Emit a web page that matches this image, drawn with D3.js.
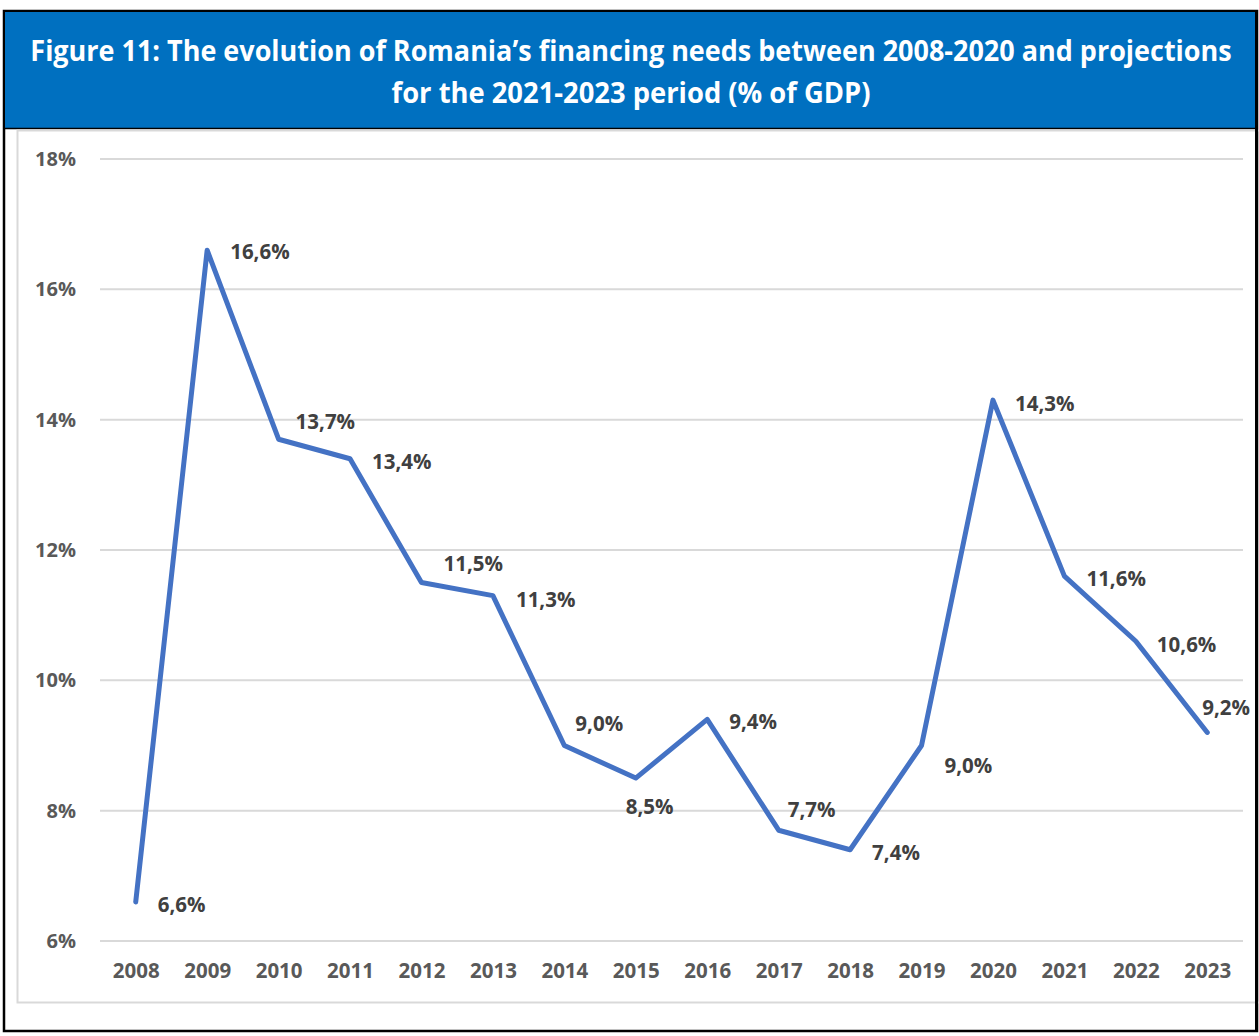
<!DOCTYPE html>
<html>
<head>
<meta charset="utf-8">
<script src="https://cdn.jsdelivr.net/npm/d3@7"></script>
<style>
  html, body { margin: 0; padding: 0; background: #ffffff; }
  svg { display: block; font-family: "Open Sans", "Noto Sans", sans-serif; }
</style>
</head>
<body>
<svg id="chart" width="1259" height="1036"></svg>
<script>
// Financing needs, % of GDP (2021-2023 are projections)
const years = ["2008","2009","2010","2011","2012","2013","2014","2015",
               "2016","2017","2018","2019","2020","2021","2022","2023"];
const financingNeeds = [6.6, 16.6, 13.7, 13.4, 11.5, 11.3, 9.0, 8.5,
                        9.4, 7.7, 7.4, 9.0, 14.3, 11.6, 10.6, 9.2];
const yTickValues = [6, 8, 10, 12, 14, 16, 18];
const titleLines = [
  "Figure 11: The evolution of Romania\u2019s financing needs between 2008-2020 and projections",
  "for the 2021-2023 period (% of GDP)"
];

// Hand-placed value labels: [dx, dy] from each point to the label's left edge / middle
const labelPlacement = [
  [22, 2], [23, 1], [17, -18], [22, 2], [22, -20], [23, 3], [11, -23], [-10, 28],
  [22, 2], [9, -21], [22, 2], [23, 19], [22, 3], [22, 2], [21, 3], [-5, -25]
];

const svg = d3.select("#chart");

// Outer frame and title banner
svg.append("rect").attr("x", 4).attr("y", 11).attr("width", 1253).attr("height", 1020)
  .attr("fill", "#ffffff").attr("stroke", "#000000").attr("stroke-width", 2.5);
svg.append("rect").attr("x", 5).attr("y", 12).attr("width", 1251).attr("height", 116)
  .attr("fill", "#0070C0");
svg.append("line").attr("x1", 5).attr("x2", 1256).attr("y1", 128.5).attr("y2", 128.5)
  .attr("stroke", "#000000").attr("stroke-width", 1.5);

// Title: a condensed look is obtained by scaling each line horizontally to its width
const titleWidths = [1202, 479];
svg.selectAll("text.title").data(titleLines).join("text")
  .attr("class", "title")
  .attr("text-anchor", "middle")
  .attr("dominant-baseline", "central")
  .attr("fill", "#ffffff")
  .attr("font-size", 28)
  .attr("font-weight", 700)
  .text(d => d)
  .each(function (d, i) {
    const natural = this.getComputedTextLength();
    const k = titleWidths[i] / natural;
    d3.select(this).attr("transform", `translate(631,${50 + i * 42}) scale(${k},1)`);
  });

// Chart area frame
svg.append("rect").attr("x", 17.5).attr("y", 130.5).attr("width", 1250).attr("height", 872)
  .attr("fill", "none").attr("stroke", "#d9d9d9").attr("stroke-width", 2);
// right edge of the outer frame sits above the chart frame
svg.append("line").attr("x1", 1256.5).attr("x2", 1256.5).attr("y1", 11).attr("y2", 1031)
  .attr("stroke", "#000000").attr("stroke-width", 3);

// Scales
const plot = { left: 100, right: 1243, top: 159, bottom: 941 };
const x = d3.scalePoint().domain(years).range([plot.left, plot.right]).padding(0.5);
const y = d3.scaleLinear().domain([6, 18]).range([plot.bottom, plot.top]);

// Gridlines
svg.append("g").selectAll("line").data(yTickValues).join("line")
  .attr("x1", plot.left).attr("x2", plot.right)
  .attr("y1", d => y(d)).attr("y2", d => y(d))
  .attr("stroke", "#d9d9d9").attr("stroke-width", 2);

// Y axis labels
const yAxis = svg.append("g").attr("transform", `translate(${plot.left},0)`)
  .call(d3.axisLeft(y).tickValues(yTickValues).tickFormat(d => d + "%").tickSize(0).tickPadding(24));
yAxis.select(".domain").remove();
yAxis.selectAll("text")
  .attr("font-family", "'Open Sans', sans-serif")
  .attr("font-size", 20).attr("font-weight", 700).attr("fill", "#595959");

// X axis labels
const xAxis = svg.append("g").attr("transform", `translate(0,${plot.bottom})`)
  .call(d3.axisBottom(x).tickSize(0).tickPadding(22));
xAxis.select(".domain").remove();
xAxis.selectAll("text")
  .attr("font-family", "'Open Sans', sans-serif")
  .attr("font-size", 20.5).attr("font-weight", 700).attr("fill", "#595959");

// Series line
const series = years.map((yr, i) => ({ year: yr, value: financingNeeds[i] }));
svg.append("path").datum(series)
  .attr("fill", "none")
  .attr("stroke", "#4472C4")
  .attr("stroke-width", 5)
  .attr("stroke-linejoin", "round")
  .attr("stroke-linecap", "round")
  .attr("d", d3.line().x(d => x(d.year)).y(d => y(d.value)));

// Value labels
const fmt = v => v.toFixed(1).replace(".", ",") + "%";
svg.append("g").selectAll("text").data(series).join("text")
  .attr("x", (d, i) => x(d.year) + labelPlacement[i][0])
  .attr("y", (d, i) => y(d.value) + labelPlacement[i][1])
  .attr("dominant-baseline", "central")
  .attr("font-size", 20.5).attr("font-weight", 700).attr("fill", "#404040")
  .text(d => fmt(d.value));
</script>
</body>
</html>
